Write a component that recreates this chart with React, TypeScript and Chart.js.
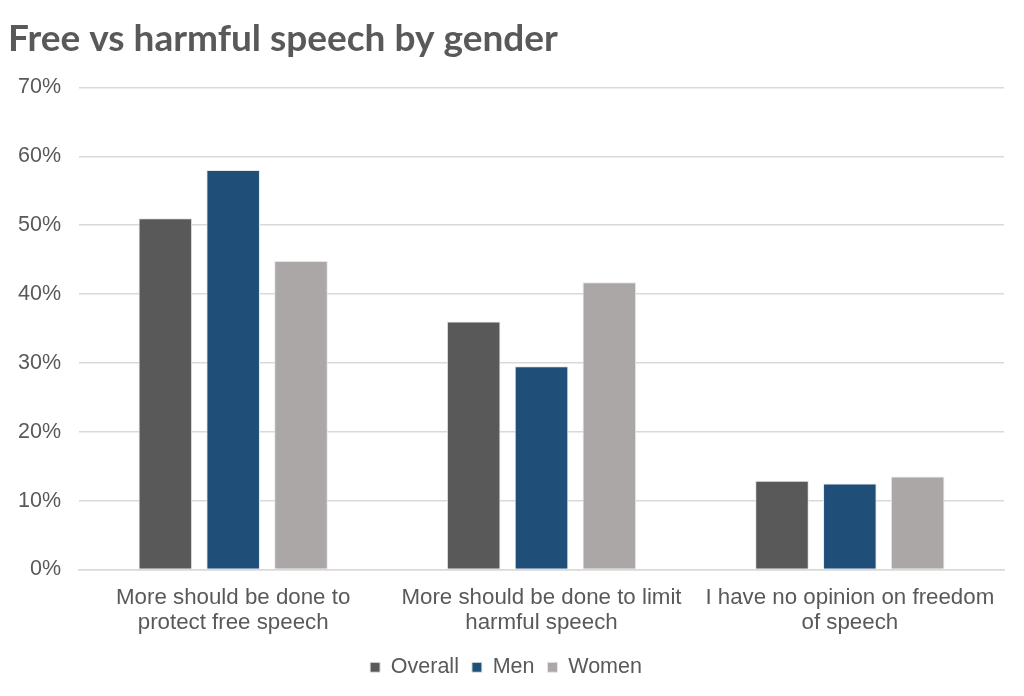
import React, { useEffect, useRef } from "react";
import { Chart, registerables } from "chart.js";

Chart.register(...registerables);

const categories: string[][] = [
  ["More should be done to", "protect free speech"],
  ["More should be done to limit", "harmful speech"],
  ["I have no opinion on freedom", "of speech"],
];
const overall = [0.51, 0.36, 0.129];
const men = [0.58, 0.295, 0.125];
const women = [0.448, 0.417, 0.135];
const seriesNames = ["Overall", "Men", "Women"];
const yTicks = [0, 0.1, 0.2, 0.3, 0.4, 0.5, 0.6, 0.7];

const FONT = "'Liberation Sans', Arial, sans-serif";

export default function App() {
  const ref = useRef<HTMLCanvasElement | null>(null);
  useEffect(() => {
    if (!ref.current) return;
    const chart = new Chart(ref.current, {
      type: "bar",
      data: {
        labels: categories,
        datasets: [
          { label: seriesNames[0], data: overall, backgroundColor: "#595959", borderColor: "#e6e6e6", borderWidth: 1 },
          { label: seriesNames[1], data: men, backgroundColor: "#1f4e79", borderColor: "#e6e6e6", borderWidth: 1 },
          { label: seriesNames[2], data: women, backgroundColor: "#aba7a6", borderColor: "#e6e6e6", borderWidth: 1 },
        ],
      },
      options: {
        animation: false,
        responsive: false,
        maintainAspectRatio: false,
        layout: { padding: { left: 8, right: 20, top: 17, bottom: 8 } },
        datasets: { bar: { barPercentage: 0.79, categoryPercentage: 0.66 } },
        plugins: {
          title: {
            display: true,
            text: "Free vs harmful speech by gender",
            align: "start",
            color: "#595959",
            font: { family: "Lato", size: 37, weight: "bold", lineHeight: 1.2 },
            padding: { top: 0, bottom: 26 },
          },
          legend: {
            position: "bottom",
            labels: {
              boxWidth: 10,
              boxHeight: 10,
              color: "#595959",
              font: { family: FONT, size: 21.5 },
              padding: 13,
            },
          },
          tooltip: { enabled: false },
        },
        scales: {
          x: {
            grid: { display: false },
            border: { color: "#d9d9d9", width: 1.5 },
            ticks: {
              color: "#595959",
              font: { family: FONT, size: 22.3, lineHeight: 1.12 },
              maxRotation: 0,
              autoSkip: false,
              padding: 8,
            },
          },
          y: {
            min: 0,
            max: 0.7,
            afterBuildTicks: (axis: any) => {
              axis.ticks = yTicks.map((v) => ({ value: v }));
            },
            afterFit: (axis: any) => {
              axis.width = 71;
            },
            grid: { color: "#d9d9d9", lineWidth: 1.5, drawTicks: false },
            border: { display: false },
            ticks: {
              color: "#595959",
              font: { family: FONT, size: 21.5 },
              padding: 18,
              callback: (v: any) => Math.round(Number(v) * 100) + "%",
            },
          },
        },
      },
    });
    return () => chart.destroy();
  }, []);
  return (
    <div style={{ position: "fixed", left: 0, top: 0, width: 1024, height: 696, background: "#fff" }}>
      <canvas ref={ref} width={1024} height={696} style={{ width: 1024, height: 696 }} />
    </div>
  );
}
